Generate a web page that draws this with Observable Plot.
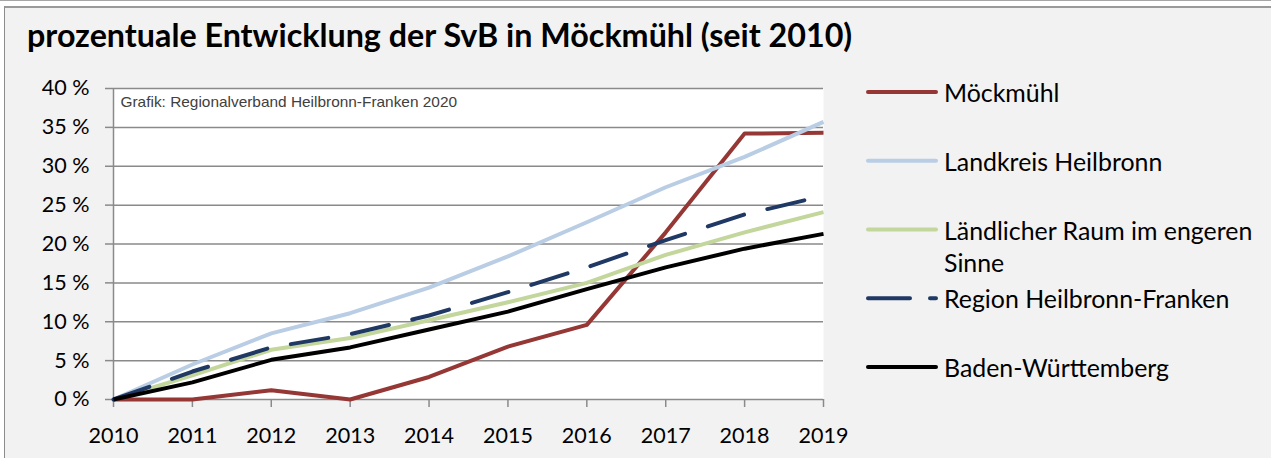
<!DOCTYPE html>
<html>
<head>
<meta charset="utf-8">
<script src="https://cdn.jsdelivr.net/npm/d3@7"></script>
<script src="https://cdn.jsdelivr.net/npm/@observablehq/plot@0.6"></script>
<style>
  html, body { margin: 0; padding: 0; background: #ffffff; }
  body { width: 1271px; height: 458px; position: relative; overflow: hidden; font-family: Lato, "Open Sans", sans-serif; }
  #topline { position: absolute; left: 0; top: 0; width: 1271px; height: 1px; background: #a6a6a6; }
  #panel { position: absolute; left: 4px; top: 6px; width: 1300px; height: 470px; background: #f2f2f2; border-left: 1px solid #8c8c8c; border-top: 2px solid #9a9a9a; }
  #title { position: absolute; left: 27px; font-weight: bold; line-height: 1; white-space: nowrap; color: #000; }
  #chart { position: absolute; left: 0; top: 70px; }
  .leg { position: absolute; left: 0; top: 0; }
  .legtext { position: absolute; left: 944px; line-height: 32px; color: #000; white-space: nowrap; }
</style>
</head>
<body>
<div id="topline"></div>
<div id="panel"></div>
<div id="title"></div>
<div id="chart"></div>
<div id="legend"></div>
<script>
// ---- data ----
const years = [2010, 2011, 2012, 2013, 2014, 2015, 2016, 2017, 2018, 2019];
const moeckmuehl = [0, 0, 1.2, 0, 2.9, 6.8, 9.6, 21.5, 34.2, 34.3];
const landkreisHeilbronn = [0, 4.5, 8.5, 11.1, 14.4, 18.4, 22.8, 27.3, 31.2, 35.7];
const laendlicherRaum = [0, 3.1, 6.4, 7.9, 10.2, 12.5, 15.0, 18.6, 21.5, 24.1];
const regionHeilbronnFranken = [0, 3.6, 6.7, 8.4, 10.8, 13.8, 17.0, 20.5, 23.8, 26.2];
const badenWuerttemberg = [0, 2.2, 5.1, 6.7, 9.0, 11.3, 14.2, 17.0, 19.4, 21.3];
const seriesNames = ["Möckmühl", "Landkreis Heilbronn", "Ländlicher Raum im engeren Sinne", "Region Heilbronn-Franken", "Baden-Württemberg"];
const yTicks = [0, 5, 10, 15, 20, 25, 30, 35, 40];
const titleText = "prozentuale Entwicklung der SvB in Möckmühl (seit 2010)";
const sourceText = "Grafik: Regionalverband Heilbronn-Franken 2020";

// ---- styles ----
const colors = ["#953735", "#b9cde5", "#c3d69b", "#1f3864", "#000000"];
const dashes = [null, null, null, "38,24", null];
const gridColor = "#8a8a8a";

const allValues = [moeckmuehl, landkreisHeilbronn, laendlicherRaum, regionHeilbronnFranken, badenWuerttemberg];
const rows = [];
seriesNames.forEach((name, i) => years.forEach((yr, j) => rows.push({series: name, year: yr, value: allValues[i][j]})));

function fitSize(text, weight, family, target) {
  const ctx = document.createElement("canvas").getContext("2d");
  ctx.font = `${weight} 100px ${family}`;
  return 100 * target / ctx.measureText(text).width;
}

// title
const titleSize = fitSize(titleText, "bold", "Lato", 826);
const title = document.getElementById("title");
title.textContent = titleText;
title.style.fontSize = titleSize + "px";
title.style.top = (48 - 0.887 * titleSize) + "px";

const tickSize = fitSize("2010", "normal", "Lato", 50);
const sourceSize = fitSize(sourceText, "normal", "'Liberation Sans'", 337);

const lineMarks = seriesNames.map((name, i) =>
  Plot.line(rows.filter(d => d.series === name), {
    x: "year", y: "value",
    stroke: colors[i], strokeWidth: 4,
    strokeDasharray: dashes[i] ?? undefined,
    strokeLinecap: dashes[i] ? "round" : "butt",
    strokeLinejoin: "round"
  })
);

const plot = Plot.plot({
  width: 840,
  height: 388,
  marginLeft: 113,
  marginRight: 17,
  marginTop: 18,
  marginBottom: 59,
  style: { background: "transparent", fontFamily: "Lato", fontSize: tickSize + "px", color: "#000", overflow: "visible" },
  x: { domain: [2010, 2019] },
  y: { domain: [0, 40] },
  marks: [
    Plot.frame({ fill: "white", stroke: null }),
    Plot.gridY(yTicks, { stroke: gridColor, strokeOpacity: 1, strokeWidth: 1.5 }),
    Plot.ruleX([2010], { stroke: gridColor, strokeWidth: 1.5 }),
    Plot.axisY({ ticks: yTicks, tickFormat: d => `${d} %`, tickSize: 8, tickPadding: 16, stroke: gridColor, strokeWidth: 1.5, fill: "#000", label: null }),
    Plot.axisX({ ticks: years, tickFormat: d => String(d), tickSize: 8, tickPadding: 20, stroke: gridColor, strokeWidth: 1.5, fill: "#000", label: null }),
    Plot.text([sourceText], { frameAnchor: "top-left", dx: 7, dy: 14, fontFamily: "Liberation Sans, Arial, sans-serif", fontSize: sourceSize, fill: "#404040", lineAnchor: "middle" }),
    ...lineMarks
  ]
});
document.getElementById("chart").appendChild(plot);

// legend
const legend = document.getElementById("legend");
const legSize = fitSize("Ländlicher Raum im engeren", "normal", "Lato", 309);
const ns = "http://www.w3.org/2000/svg";
const svg = document.createElementNS(ns, "svg");
svg.setAttribute("width", 1271); svg.setAttribute("height", 458);
svg.setAttribute("class", "leg");
legend.appendChild(svg);
seriesNames.forEach((name, i) => {
  const cy = 92 + i * 68.75;
  const ln = document.createElementNS(ns, "line");
  ln.setAttribute("x1", 868); ln.setAttribute("x2", 936);
  ln.setAttribute("y1", cy); ln.setAttribute("y2", cy);
  ln.setAttribute("stroke", colors[i]); ln.setAttribute("stroke-width", 4);
  ln.setAttribute("stroke-linecap", "round");
  if (dashes[i]) ln.setAttribute("stroke-dasharray", "42,20");
  svg.appendChild(ln);
  const t = document.createElement("div");
  t.className = "legtext";
  t.style.fontSize = legSize + "px";
  t.style.top = (cy - 16) + "px";
  t.style.width = "320px";
  t.style.whiteSpace = "normal";
  t.textContent = name;
  legend.appendChild(t);
});
</script>
</body>
</html>
